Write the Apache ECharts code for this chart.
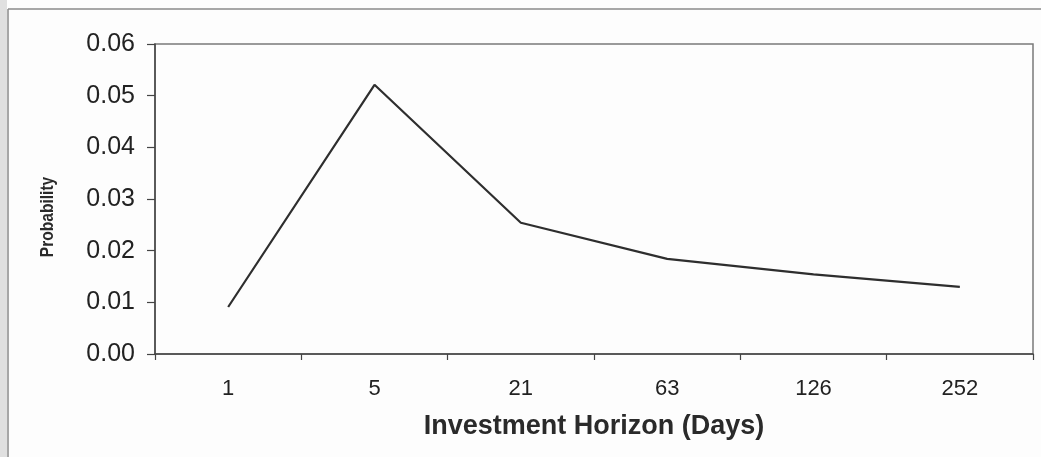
<!DOCTYPE html>
<html>
<head>
<meta charset="utf-8">
<script src="https://cdn.jsdelivr.net/npm/echarts@6/dist/echarts.min.js"></script>
<style>
  html, body { margin: 0; padding: 0; background: #fdfdfd; }
  #chart { width: 1041px; height: 457px; }
</style>
</head>
<body>
<div id="chart"></div>
<script>
// Investment horizons (trading days) and the probability at each horizon
const horizons = ['1', '5', '21', '63', '126', '252'];
const probability = [0.0091, 0.0521, 0.0254, 0.0184, 0.0154, 0.0130];
const yTicks = { min: 0, max: 0.06, interval: 0.01 };
const yTitle = 'Probability';

const chart = echarts.init(document.getElementById('chart'), null, { renderer: 'canvas' });

chart.setOption({
  animation: false,
  backgroundColor: '#fdfdfd',
  graphic: [
    // shaded page margin on the left and the outer chart frame
    { type: 'rect', left: 0, top: 0, shape: { width: 7, height: 457 },
      style: { fill: '#e0e0e0' }, z: -1 },
    { type: 'line', shape: { x1: 8, y1: 9, x2: 1041, y2: 9 },
      style: { stroke: '#8a8a8a', lineWidth: 1.5 } },
    { type: 'line', shape: { x1: 8, y1: 9, x2: 8, y2: 457 },
      style: { stroke: '#8a8a8a', lineWidth: 1.5 } },
    // vertical axis title, set bottom-to-top and slightly condensed
    { type: 'text', x: 48, y: 217, rotation: Math.PI / 2, scaleX: 0.82,
      style: {
        text: yTitle, align: 'center', verticalAlign: 'middle',
        fontFamily: '"Liberation Sans", Arial, sans-serif',
        fontWeight: 'bold', fontSize: 19, fill: '#2a2a2a'
      } }
  ],
  grid: {
    left: 155, right: 8, top: 44, bottom: 103,
    show: true, borderColor: '#7a7a7a', borderWidth: 1.5,
    backgroundColor: 'transparent'
  },
  xAxis: {
    type: 'category',
    data: horizons,
    boundaryGap: true,
    name: 'Investment Horizon (Days)',
    nameLocation: 'middle',
    nameGap: 59,
    nameTextStyle: {
      fontFamily: '"Liberation Sans", Arial, sans-serif',
      fontWeight: 'bold', fontSize: 27, color: '#2a2a2a'
    },
    axisLine: { lineStyle: { color: '#444', width: 1.5 } },
    axisTick: { show: true, length: 6, lineStyle: { color: '#444', width: 1.2 } },
    axisLabel: {
      margin: 24,
      fontFamily: '"Liberation Sans", Arial, sans-serif',
      fontSize: 22, color: '#222'
    },
    splitLine: { show: false }
  },
  yAxis: {
    type: 'value',
    min: yTicks.min, max: yTicks.max, interval: yTicks.interval,
    axisLine: { show: true, lineStyle: { color: '#444', width: 1.5 } },
    axisTick: { show: true, length: 8, lineStyle: { color: '#444', width: 1.2 } },
    axisLabel: {
      margin: 20,
      fontFamily: '"Liberation Sans", Arial, sans-serif',
      fontSize: 25, color: '#222',
      formatter: v => v.toFixed(2)
    },
    splitLine: { show: false }
  },
  series: [{
    type: 'line',
    data: probability,
    symbol: 'none',
    lineStyle: { color: '#2e2e2e', width: 2.2 },
    z: 3
  }]
});
</script>
</body>
</html>
